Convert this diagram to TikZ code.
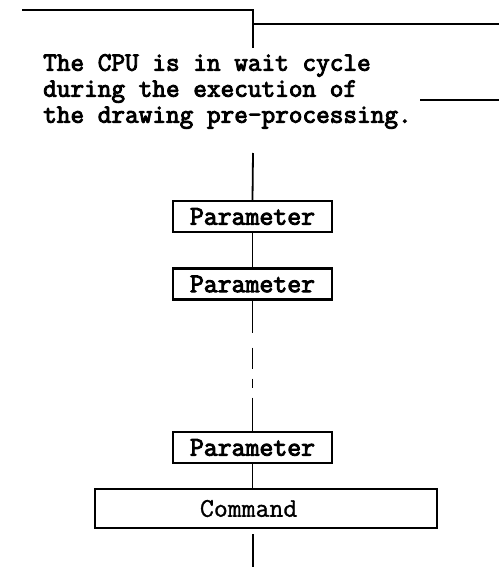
\documentclass[tikz,border=0pt]{standalone}
\usepackage{fontspec}
\newfontfamily\dotfont[FakeBold=3.5]{Latin Modern Mono}
\newfontfamily\cmdfont[FakeBold=1.2]{Latin Modern Mono}
\begin{document}
\begin{tikzpicture}[x=1pt,y={(0pt,-1pt)},
  wire/.style={line width=1.8pt},
  pbox/.style={draw,line width=2.4pt,rectangle,minimum width=159pt,minimum height=31pt,inner sep=0pt,
    font=\dotfont\fontsize{27}{27}\selectfont},
  cbox/.style={draw,line width=2.4pt,rectangle,minimum width=342pt,minimum height=39pt,inner sep=0pt,
    font=\cmdfont\fontsize{27}{27}\selectfont},
  note/.style={anchor=north west,inner sep=0pt,align=left,font=\dotfont\fontsize{26.5}{26}\selectfont}]
\useasboundingbox (0,0) rectangle (499,567);
% top signal lines
\coordinate (a) at (22,10);
\coordinate (b) at (253,10);
\coordinate (c) at (253,48);
\coordinate (bm) at (253,24);
\coordinate (d) at (499,24);
\draw[wire] (a) -- (b) -- (c);
\draw[wire] (bm) -- (d);
% note text
\node[note] (txt) at (43,54) {The CPU is in wait cycle\\during the execution of\\the drawing pre-processing.};
\coordinate (s1) at (420,100);
\coordinate (s2) at (499,100);
\draw[wire] (s1) -- (s2);
% boxes
\node[pbox] (p1) at (252.5,216.5) {Parameter};
\node[pbox] (p2) at (252.5,284) {Parameter};
\node[pbox] (p3) at (252.5,447.5) {Parameter};
\node[cbox] (cmd) at (266,508.5) {\makebox[132pt][l]{Command}};
% connectors
\coordinate (in) at (253,153);
\draw[wire] (in) -- (p1.north);
\draw[wire] (p1.south) -- (p2.north);
\draw[wire,dash pattern=on 32pt off 15pt on 21pt off 10pt on 9pt off 10pt on 60pt] (p2.south) -- (p3.north);
\draw[wire] (p3.south) -- (p3.south |- cmd.north);
\coordinate (o1) at (253,534);
\coordinate (o2) at (253,567);
\draw[wire] (o1) -- (o2);
\end{tikzpicture}
\end{document}
